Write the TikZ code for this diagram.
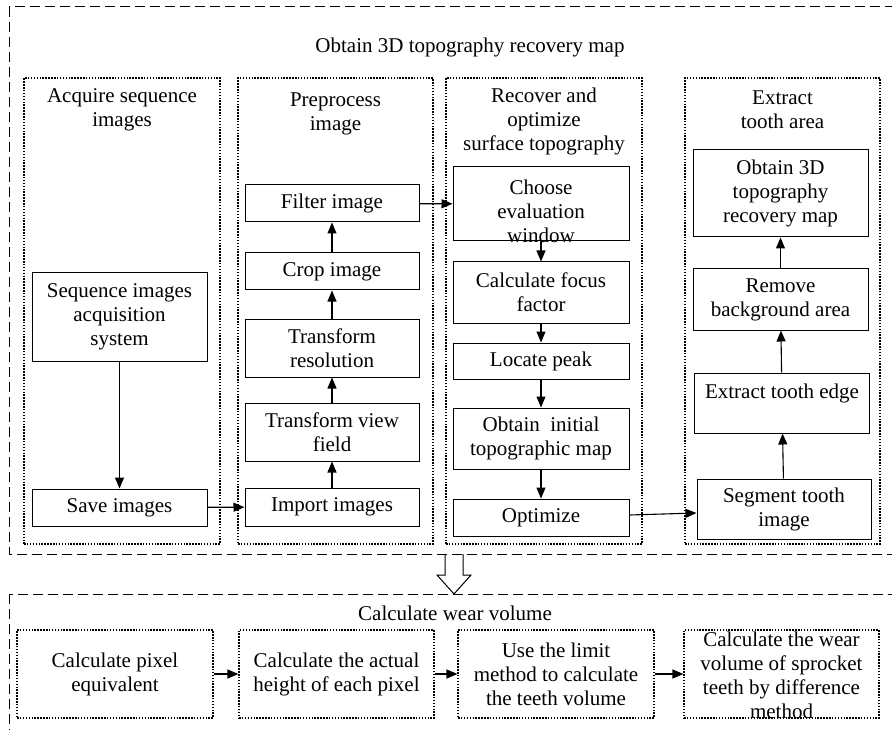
\documentclass[tikz,border=0pt]{standalone}
\usepackage{fontspec}
\setmainfont{Liberation Serif}
\usetikzlibrary{arrows.meta}

\begin{document}
\begin{tikzpicture}[x=1pt, y=-1pt,
    every node/.style={font=\fontsize{21}{24}\selectfont, align=center},
    procbox/.style={draw, line width=1pt, inner sep=1pt},
    grpbox/.style={draw, line width=1.1pt, dash pattern=on 1.5pt off 1.4pt},
    outerbox/.style={draw, line width=1pt, dash pattern=on 10pt off 5pt},
    flow/.style={-{Triangle[length=11pt,width=9pt]}, line width=1.1pt}]
    \useasboundingbox (0,0) rectangle (892,730);

    %% outer frames (run past the page on the right and below)
    \draw[outerbox] (9,7) rectangle (910,554);
    \draw[outerbox] (9,594) rectangle (910,745);
    \coordinate (gaptop) at (454,554);
    \coordinate (gapbot) at (454,594);
    \node (toptitle) at (470,47) {Obtain 3D topography recovery map};
    \node (bottitle) at (455,613) {Calculate wear volume};

    %% four stages of the upper frame
    \node[grpbox, minimum width=196, minimum height=466] (acq) at (122,311) {};
    \node[grpbox, minimum width=195, minimum height=466] (pre) at (335.5,311) {};
    \node[grpbox, minimum width=196, minimum height=466] (rec) at (544,311) {};
    \node[grpbox, minimum width=195, minimum height=466] (ext) at (782.5,311) {};
    \node (acqhead) at (122,110) {Acquire sequence\\images};
    \node (prehead) at (335.5,114) {Preprocess\\image};
    \node (rechead) at (544,121) {Recover and\\optimize\\surface topography};
    \node (exthead) at (782.5,110) {Extract\\tooth area};

    %% acquire
    \node[procbox, minimum width=175, minimum height=88] (seq) at (119.5,317)
      {Sequence images\\acquisition\\system};
    \node[procbox, minimum width=175, minimum height=37] (save) at (119.5,507.5) {Save images};

    %% preprocess
    \node[procbox, minimum width=174, minimum height=37] (filter) at (332,203.5) {Filter image};
    \node[procbox, minimum width=174, minimum height=37] (crop) at (332,271.5) {Crop image};
    \node[procbox, minimum width=174, minimum height=58] (tres) at (332,348) {Transform\\resolution};
    \node[procbox, minimum width=174, minimum height=58] (tview) at (332,432) {Transform view\\field};
    \node[procbox, minimum width=174, minimum height=38] (import) at (332,507) {Import images};

    %% recover
    \node[procbox, minimum width=176, minimum height=74] (choose) at (541,204) {};
    \node (choosetxt) at (541,211) {Choose\\evaluation\\window};
    \node[procbox, minimum width=176, minimum height=61] (focus) at (541,292.5) {Calculate focus\\factor};
    \node[procbox, minimum width=176, minimum height=36] (peak) at (541,361) {Locate peak};
    \node[procbox, minimum width=176, minimum height=61] (initial) at (541,438.5)
      {Obtain~~initial\\topographic map};
    \node[procbox, minimum width=176, minimum height=37] (optim) at (541,517.5) {Optimize};

    %% extract
    \node[procbox, minimum width=175, minimum height=87] (obtain) at (780.5,193.5)
      {Obtain 3D\\topography\\recovery map};
    \node[procbox, minimum width=175, minimum height=61] (remove) at (780.5,299.5)
      {Remove\\background area};
    \node[procbox, minimum width=175, minimum height=60] (edge) at (782,403)
      {Extract tooth edge\\\mbox{}};
    \node[procbox, minimum width=174, minimum height=60] (segment) at (784,509)
      {Segment tooth\\image};

    \draw[flow] (seq) -- (save);
    \draw[flow] (save) -- (import);
    \draw[flow] (import) -- (tview);
    \draw[flow] (tview) -- (tres);
    \draw[flow] (tres) -- (crop);
    \draw[flow] (crop) -- (filter);
    \draw[flow] (filter) -- (choose);
    \draw[flow] (choose) -- (focus);
    \draw[flow] (focus) -- (peak);
    \draw[flow] (peak) -- (initial);
    \draw[flow] (initial) -- (optim);
    \draw[flow] ([yshift=2.5pt]optim.east) -- ([yshift=-4pt]segment.west);
    \draw[flow] (segment) -- (edge);
    \draw[flow] (edge) -- (remove);
    \draw[flow] (remove) -- (obtain);

    %% hollow arrow between frames
    \draw[line width=1pt] ([xshift=-9pt]gaptop)
      -- ([xshift=-9pt,yshift=19pt]gapbot) -- ([xshift=-17pt,yshift=19pt]gapbot)
      -- (gapbot) -- ([xshift=17pt,yshift=19pt]gapbot)
      -- ([xshift=9pt,yshift=19pt]gapbot) -- ([xshift=9pt]gaptop);

    %% lower frame
    \node[grpbox, minimum width=196, minimum height=88] (pix) at (115,674)
      {Calculate pixel\\equivalent};
    \node[grpbox, minimum width=195, minimum height=88] (height) at (336.5,674)
      {Calculate the actual\\height of each pixel};
    \node[grpbox, minimum width=196, minimum height=88] (limit) at (556,674)
      {Use the limit\\method to calculate\\the teeth volume};
    \node[grpbox, minimum width=195, minimum height=88] (wear) at (781.5,674) {};
    \node (weartxt) at (781.5,675)
      {Calculate the wear\\volume of sprocket\\teeth by difference\\method};

    \draw[flow] (pix) -- (height);
    \draw[flow] (height) -- (limit);
    \draw[flow] (limit) -- (wear);
  \end{tikzpicture}
\end{document}
